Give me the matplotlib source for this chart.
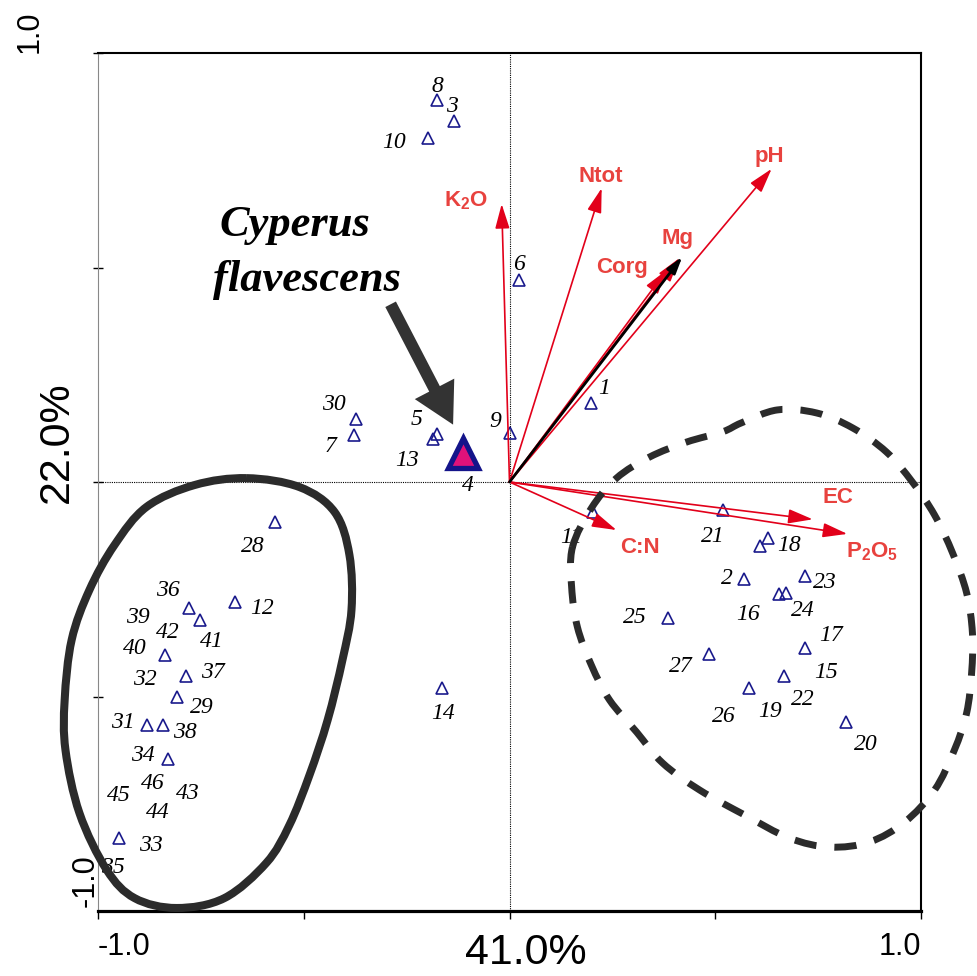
import matplotlib
matplotlib.use("Agg")
import matplotlib.pyplot as plt
from matplotlib.path import Path
from matplotlib.patches import PathPatch, FancyArrowPatch
import numpy as np

# --- site scores on CCA axes 1 and 2 -------------------------------------
SITE_IDS = list(range(1, 47))
SITE_X = [0.199, 0.569, -0.134, -0.112, -0.175, 0.024, -0.377, -0.175, 0.000, -0.197,
          0.204, -0.668, -0.187, -0.163, 0.608, 0.654, 0.719, 0.627, 0.581, 0.817,
          0.518, 0.666, 0.719, 0.673, 0.384, 0.581, 0.484, -0.571, -0.809, -0.374,
          -0.882, -0.785, -0.950, -0.831, -0.950, -0.780, -0.785, -0.843, -0.836, -0.836,
          -0.751, -0.836, -0.831, -0.831, -0.950, -0.831]
SITE_Y = [0.184, -0.226, 0.841, 0.067, 0.112, 0.471, 0.110, 0.890, 0.114, 0.802,
          -0.070, -0.280, 0.100, -0.480, -0.149, -0.261, -0.387, -0.131, -0.480, -0.559,
          -0.065, -0.452, -0.219, -0.259, -0.317, -0.480, -0.401, -0.093, -0.501, 0.147,
          -0.566, -0.452, -0.830, -0.646, -0.830, -0.294, -0.452, -0.566, -0.403, -0.403,
          -0.322, -0.403, -0.646, -0.646, -0.830, -0.646]

# label placement around each triangle, pixels (right, down)
LABEL_OFFSETS = {
    1: (13, -15), 2: (-17, 0), 3: (-2, -15), 4: (4, 32), 5: (-21, -14), 6: (0, -15),
    7: (-24, 12), 8: (0, -14), 9: (-14, -12), 10: (-34, 5), 11: (-22, 25), 12: (27, 6),
    13: (-26, 21), 14: (1, 26), 15: (66, 127), 16: (-31, 21), 17: (26, -13), 18: (22, 7),
    19: (21, 24), 20: (20, 23), 21: (-10, 27), 22: (19, 24), 23: (19, 7), 24: (16, 17),
    25: (-33, 0), 26: (-25, 29), 27: (-28, 12), 28: (-22, 25), 29: (25, 11), 30: (-22, -14),
    31: (-24, -2), 32: (-42, 4), 33: (32, 7), 34: (-25, -4), 35: (-6, 29), 36: (-21, -18),
    37: (26, -3), 38: (22, 8), 39: (-28, -37), 40: (-31, -6), 41: (11, 21), 42: (2, -22),
    43: (20, 34), 44: (-10, 53), 45: (0, -43), 46: (-15, 24),
}

# --- environmental variables (arrow tips) ---------------------------------
ENV_NAMES = ["K$_2$O", "Ntot", "pH", "Mg", "Corg", "EC", "P$_2$O$_5$", "C:N"]
ENV_X = [-0.019, 0.224, 0.637, 0.413, 0.382, 0.737, 0.821, 0.260]
ENV_Y = [0.648, 0.685, 0.730, 0.522, 0.494, -0.087, -0.121, -0.112]
ENV_LABEL_OFFSETS = [(-36, -3), (-1, -12), (-2, -12), (-2, -20), (-45, -3),
                     (25, -22), (25, 18), (23, 17)]

# --- species --------------------------------------------------------------
SPECIES_NAME = ["Cyperus", "flavescens"]
SPECIES_X, SPECIES_Y = -0.112, 0.067
SPECIES_VEC = (0.420, 0.525)

# hand-drawn group outlines (axis units)
LEFT_GROUP = [(-0.639, 0.009), (-0.510, -0.012), (-0.425, -0.070), (-0.389, -0.170),
              (-0.384, -0.298), (-0.406, -0.415), (-0.442, -0.555), (-0.486, -0.683),
              (-0.535, -0.800), (-0.591, -0.888), (-0.693, -0.970), (-0.809, -0.993),
              (-0.911, -0.970), (-0.979, -0.904), (-1.045, -0.772), (-1.079, -0.625),
              (-1.081, -0.508), (-1.064, -0.368), (-1.021, -0.252), (-0.960, -0.147),
              (-0.882, -0.058), (-0.765, -0.007)]
RIGHT_GROUP = [(0.153, -0.152), (0.199, -0.061), (0.260, 0.009), (0.340, 0.058),
               (0.430, 0.093), (0.518, 0.117), (0.564, 0.138), (0.651, 0.168),
               (0.746, 0.161), (0.834, 0.126), (0.916, 0.070), (0.979, 0.000),
               (1.033, -0.077), (1.077, -0.166), (1.111, -0.259), (1.125, -0.352),
               (1.123, -0.445), (1.111, -0.538), (1.081, -0.625), (1.033, -0.718),
               (0.960, -0.793), (0.875, -0.839), (0.778, -0.851), (0.680, -0.830),
               (0.571, -0.776), (0.462, -0.718), (0.372, -0.655), (0.309, -0.583),
               (0.243, -0.508), (0.199, -0.427), (0.165, -0.338), (0.151, -0.245)]

RED = "#e2001a"
RED_TXT = "#e8423e"
NAVY = "#1a1a8c"
DARK = "#2b2b2b"

plt.rcParams["font.family"] = ["Liberation Sans", "DejaVu Sans"]
plt.rcParams["mathtext.fontset"] = "custom"
plt.rcParams["mathtext.rm"] = "Liberation Sans:bold"
plt.rcParams["mathtext.default"] = "rm"


def closed_smooth_path(pts):
    # closed Catmull-Rom outline handed to matplotlib as cubic beziers
    p = np.asarray(pts, dtype=float)
    n = len(p)
    verts = [p[0]]
    codes = [Path.MOVETO]
    for i in range(n):
        p0, p1, p2, p3 = p[i - 1], p[i], p[(i + 1) % n], p[(i + 2) % n]
        verts += [p1 + (p2 - p0) / 6.0, p2 - (p3 - p1) / 6.0, p2]
        codes += [Path.CURVE4] * 3
    return Path(verts, codes)


fig = plt.figure(figsize=(9.77, 9.76), dpi=100)
ax = fig.add_axes([98 / 977, 65 / 976, 823 / 977, 858 / 976])
ax.set_xlim(-1, 1)
ax.set_ylim(-1, 1)

for side, lw, col in [("bottom", 2.3, "black"), ("top", 1.5, "black"),
                      ("right", 1.5, "black"), ("left", 0.8, "#888888")]:
    ax.spines[side].set_linewidth(lw)
    ax.spines[side].set_color(col)

ax.set_xticks([-1, -0.5, 0, 0.5, 1])
ax.set_xticklabels(["-1.0", "", "", "", "1.0"], fontsize=22)
xl = ax.get_xticklabels()
xl[0].set_ha("left")
xl[-1].set_ha("right")
ax.tick_params(axis="x", direction="out", length=6, width=1, pad=9)
ax.set_yticks([-0.5, 0, 0.5, 1])
ax.set_yticklabels([])
ax.tick_params(axis="y", direction="inout", length=7, width=1)
ax.yaxis.get_major_ticks()[-1].tick1line.set_color(RED)

ax.text(-0.0826, 1.0, "1.0", transform=ax.get_yaxis_transform(), rotation=90,
        rotation_mode="anchor", ha="left", va="center", fontsize=22)
ax.text(-0.0146, -0.99, "-1.0", transform=ax.get_yaxis_transform(), rotation=90,
        rotation_mode="anchor", ha="left", va="center", fontsize=22)
ax.text(-0.0498, 0.093, "22.0%", transform=ax.get_yaxis_transform(), rotation=90,
        ha="center", va="center", fontsize=31)
fig.text(526 / 977, 1 - 933 / 976, "41.0%", ha="center", va="top", fontsize=31)

ax.axhline(0, color="black", lw=0.8, ls=(0, (1, 1)), zorder=1)
ax.axvline(0, color="black", lw=0.8, ls=(0, (1, 1)), zorder=1)

# sites (coincident scores drawn once)
pts = np.unique(np.column_stack([SITE_X, SITE_Y]), axis=0)
ax.plot(pts[:, 0], pts[:, 1], ls="none", marker="^", ms=9, mfc="none", mec=NAVY,
        mew=1.2, zorder=3)
for sid, sx, sy in zip(SITE_IDS, SITE_X, SITE_Y):
    dx, dy = LABEL_OFFSETS[sid]
    ax.annotate(str(sid), (sx, sy), xytext=(dx, -dy), textcoords="offset pixels",
                ha="center", va="center", fontsize=17, style="italic",
                family=["Liberation Serif", "DejaVu Serif"], zorder=2)

# environmental arrows
for name, ex, ey, (dx, dy) in zip(ENV_NAMES, ENV_X, ENV_Y, ENV_LABEL_OFFSETS):
    ax.annotate("", xy=(ex, ey), xytext=(0, 0),
                arrowprops=dict(arrowstyle="-|>,head_length=0.75,head_width=0.22",
                                mutation_scale=20, color=RED, lw=1.2,
                                shrinkA=0, shrinkB=0), zorder=4)
    ax.annotate(name, (ex, ey), xytext=(dx, -dy), textcoords="offset pixels",
                ha="center", va="center", fontsize=16, fontweight="bold",
                color=RED_TXT, zorder=5)

ax.annotate("", xy=SPECIES_VEC, xytext=(0, 0),
            arrowprops=dict(arrowstyle="-|>,head_length=0.5,head_width=0.15",
                            mutation_scale=20, color="black", lw=2.0,
                            shrinkA=0, shrinkB=0), zorder=4)

# group outlines
ax.add_patch(PathPatch(closed_smooth_path(LEFT_GROUP), fill=False, ec=DARK,
                       lw=5.8, clip_on=False, zorder=6))
ax.add_patch(PathPatch(closed_smooth_path(RIGHT_GROUP), fill=False, ec=DARK,
                       lw=5.0, ls=(0, (3.2, 2.6)), capstyle="butt",
                       clip_on=False, zorder=6))

# highlighted species
ax.plot([SPECIES_X], [SPECIES_Y], ls="none", marker="^", ms=22, mfc="#e0127a",
        mec="#14148a", mew=3.8, zorder=7)
ax.add_patch(FancyArrowPatch((-0.292, 0.420), (-0.134, 0.128),
                             arrowstyle="simple,head_length=1.45,head_width=1.6,tail_width=0.43",
                             mutation_scale=20, color="#333333", lw=0, zorder=7))
serif_bi = dict(family=["Liberation Serif", "DejaVu Serif"], style="italic",
                fontweight="bold", fontsize=32, ha="center", va="center")
ax.text(-0.522, 0.599, SPECIES_NAME[0], **serif_bi)
ax.text(-0.491, 0.471, SPECIES_NAME[1], **serif_bi)

fig.savefig("out.png", dpi=100)
